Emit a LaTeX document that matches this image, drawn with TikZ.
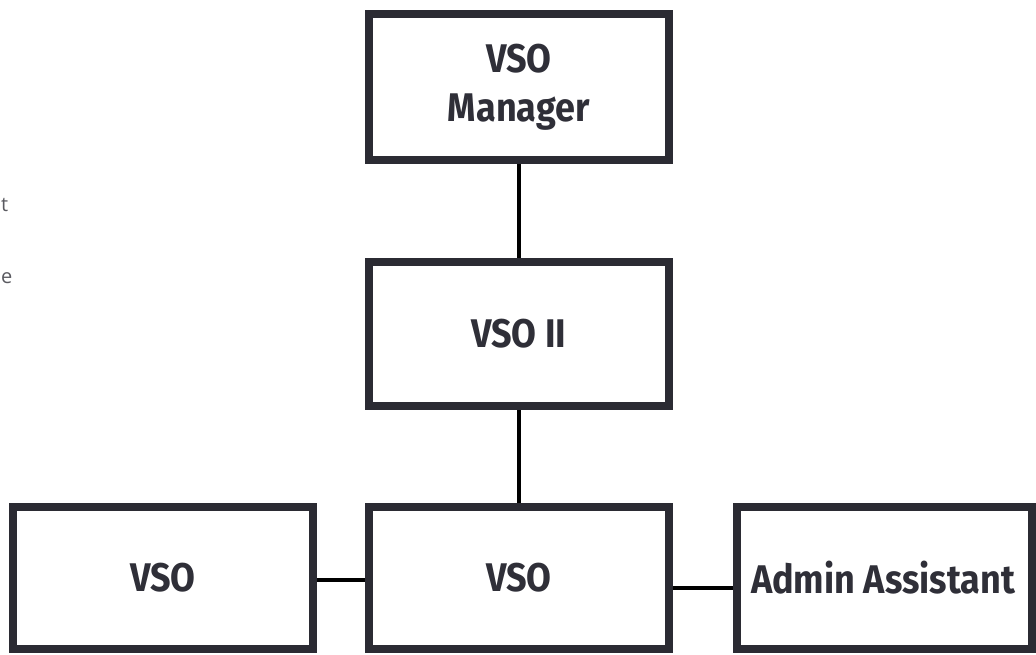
\documentclass[tikz,border=0pt]{standalone}
\usepackage{fontspec}
\setmainfont{Fira Sans}[FakeStretch=0.9]
\newfontfamily\fragfont{Open Sans}
\definecolor{boxline}{HTML}{2B2B33}
\definecolor{txt}{HTML}{2F2F38}
\definecolor{frag}{HTML}{5A5A60}
\begin{document}
\begin{tikzpicture}[x=1pt,y=-1pt,
  orgbox/.style={draw=boxline, line width=8pt, fill=white, inner sep=0pt,
    text=txt, font=\fontsize{40}{49}\selectfont\bfseries, align=center},
  link/.style={draw=black, line width=4pt},
  fragtext/.style={text=frag, font=\fragfont\fontsize{20}{24}\selectfont, inner sep=0pt, anchor=west}]
\useasboundingbox (0,0) rectangle (1036,654);
\fill[white] (0,0) rectangle (1036,654);
\node[orgbox, minimum width=300.5pt, minimum height=146pt] (mgr) at (518.75,87) {VSO\\Manager};
\node[orgbox, minimum width=300.5pt, minimum height=144pt] (vso2) at (518.75,334) {VSO II};
\node[orgbox, minimum width=300.5pt, minimum height=142pt] (vsoc) at (518.75,578) {VSO};
\node[orgbox, minimum width=300pt, minimum height=142pt] (vsol) at (163,578) {VSO};
\node[orgbox, minimum width=295pt, minimum height=142pt] (admin) at (884.5,578) {Admin Assistant\hspace*{3pt}};
\node[fragtext] (f1) at (1,205) {t};
\node[fragtext] (f2) at (1,278) {e};
\draw[link] (mgr.south) -- (vso2.north);
\draw[link] (vso2.south) -- (vsoc.north);
\draw[link] ([yshift=-2pt]vsol.east) -- ([yshift=-2pt]vsol.east -| vsoc.west);
\draw[link] ([yshift=-10pt]vsoc.east) -- ([yshift=-10pt]vsoc.east -| admin.west);
\end{tikzpicture}
\end{document}
